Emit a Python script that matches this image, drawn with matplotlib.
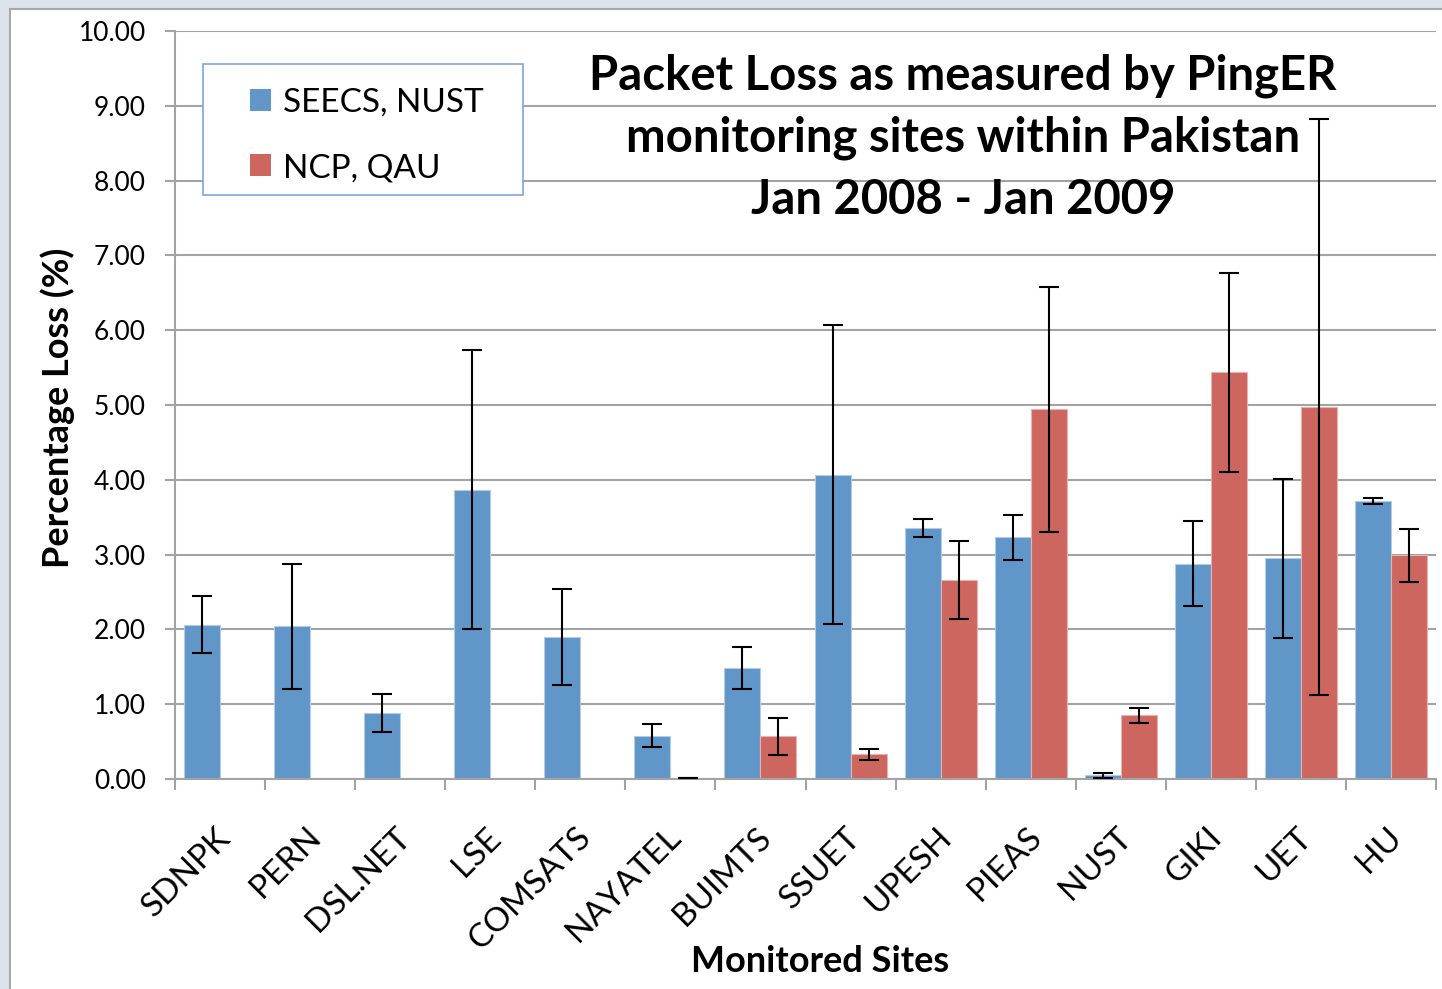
import numpy as np
import matplotlib.pyplot as plt
from matplotlib.patches import Rectangle, Patch, Shadow

plt.rcParams['font.family'] = ['Lato', 'DejaVu Sans']

# Data
sites = ['SDNPK', 'PERN', 'DSL.NET', 'LSE', 'COMSATS', 'NAYATEL', 'BUIMTS',
         'SSUET', 'UPESH', 'PIEAS', 'NUST', 'GIKI', 'UET', 'HU']
seecs = [2.06, 2.04, 0.88, 3.87, 1.90, 0.58, 1.48, 4.07, 3.35, 3.23, 0.05, 2.88, 2.95, 3.72]
seecs_err = [0.38, 0.84, 0.25, 1.86, 0.64, 0.15, 0.28, 2.00, 0.12, 0.30, 0.03, 0.57, 1.06, 0.04]
ncp = [np.nan, np.nan, np.nan, np.nan, np.nan, 0.02, 0.57, 0.33, 2.66, 4.94, 0.85, 5.44, 4.97, 2.99]
ncp_err = [np.nan, np.nan, np.nan, np.nan, np.nan, 0.0, 0.25, 0.07, 0.52, 1.64, 0.10, 1.33, 3.85, 0.35]

blue = '#6196c9'
red = '#cc665f'

fig = plt.figure(figsize=(14.42, 9.89), dpi=100)
fig.patch.set_facecolor('#dce2ea')
# white "slide" area with a thin border
fig.add_artist(Rectangle((10 / 1442, -0.05), 1.1, (989 - 9) / 989 + 0.05,
                         transform=fig.transFigure, facecolor='white',
                         edgecolor='#a9a9a9', lw=1.5, zorder=-10))

ax = fig.add_axes([175 / 1442, 1 - 779 / 989, (1436 - 175) / 1442, (779 - 31) / 989])
ax.set_facecolor('none')

x = np.arange(len(sites))
w = 0.4
ax.bar(x - w / 2, seecs, w, color=blue, edgecolor='#b3cbe6', linewidth=0.8, zorder=2)
ax.bar(x + w / 2, ncp, w, color=red, edgecolor='#e6b3b0', linewidth=0.8, zorder=2)
ax.errorbar(x - w / 2, seecs, yerr=seecs_err, fmt='none', ecolor='black',
            elinewidth=1.5, capsize=7.5, capthick=1.5, zorder=3)
ax.errorbar(x + w / 2, ncp, yerr=ncp_err, fmt='none', ecolor='black',
            elinewidth=1.5, capsize=7.5, capthick=1.5, zorder=3)

ax.set_xlim(-0.5, len(sites) - 0.5)
ax.set_ylim(0, 10)
ax.set_yticks(np.arange(0, 11, 1))
ax.set_yticklabels(['%.2f' % v for v in np.arange(0, 11, 1)], fontsize=19)
ax.yaxis.grid(True, color='#a3a3a3', lw=1.5, zorder=0)
ax.set_axisbelow(True)

# tick marks between categories, labels (invisible minor ticks) near the centres
ax.set_xticks(np.arange(-0.5, len(sites), 1))
ax.set_xticklabels([])
ax.set_xticks(x - 0.055, minor=True)
ax.set_xticklabels(sites, minor=True, rotation=45, ha='right', va='top',
                   rotation_mode='anchor', fontsize=24)
ax.tick_params(axis='x', which='major', length=8, width=1.5, color='#a3a3a3')
ax.tick_params(axis='x', which='minor', length=0, pad=31)
ax.tick_params(axis='y', length=7, width=1.5, color='#a3a3a3', pad=14)

for s in ['top', 'right']:
    ax.spines[s].set_visible(False)
for s in ['left', 'bottom']:
    ax.spines[s].set_color('#a3a3a3')
    ax.spines[s].set_linewidth(1.5)

ax.set_ylabel('Percentage Loss (%)', fontsize=26, fontweight='bold', va='center')
ax.yaxis.set_label_coords((58 - 175) / 1261, (779 - 408) / 748)
ax.set_xlabel('Monitored Sites', fontsize=26, fontweight='bold', va='center')
ax.xaxis.set_label_coords((820 - 175) / 1261, (779 - 962) / 748)

ax.text((963 - 175) / 1261, (779 - 138) / 748,
        'Packet Loss as measured by PingER\nmonitoring sites within Pakistan\nJan 2008 - Jan 2009',
        transform=ax.transAxes, ha='center', va='center', fontsize=34,
        fontweight='bold', linespacing=1.5, zorder=4)

# legend: own frame box, entries placed inside it
lx0, lx1 = (203 - 175) / 1261, (523 - 175) / 1261
ly0, ly1 = (779 - 195) / 748, (779 - 64) / 748
frame = Rectangle((lx0, ly0), lx1 - lx0, ly1 - ly0, transform=ax.transAxes,
                  facecolor='white', edgecolor='#7ea6d6', lw=1.2, zorder=5)
ax.add_patch(Shadow(frame, 3, -3, color='#c8c8c8', alpha=0.9, zorder=4.9))
ax.add_patch(frame)

handles = [Patch(facecolor=blue), Patch(facecolor=red)]
leg = ax.legend(handles, ['SEECS, NUST', 'NCP, QAU'], loc='upper left',
                bbox_to_anchor=((250 - 175) / 1261, (779 - 88) / 748),
                borderaxespad=0, borderpad=0, fontsize=24, frameon=False,
                handlelength=0.63, handleheight=0.63, handletextpad=0.35,
                labelspacing=1.05)
leg.set_zorder(6)

fig.savefig('out.png', dpi=100, facecolor=fig.get_facecolor())
